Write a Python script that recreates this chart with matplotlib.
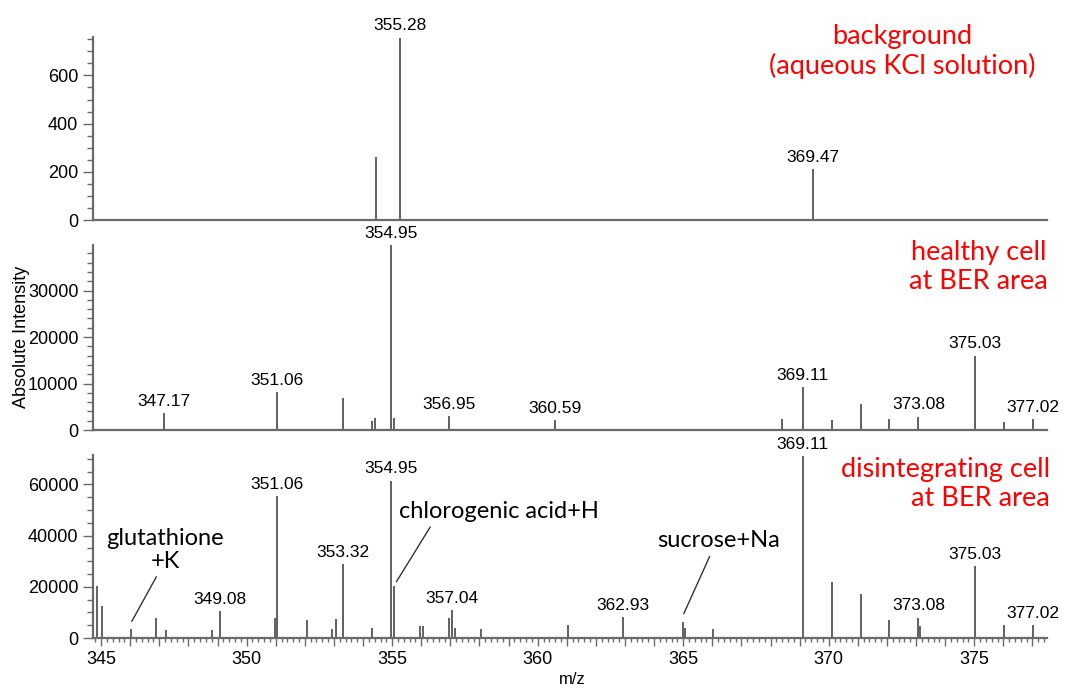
import matplotlib
matplotlib.use("Agg")
import matplotlib.pyplot as plt
from matplotlib.ticker import MultipleLocator, FuncFormatter

# background (aqueous KCl solution)
bg_mz = [354.43, 355.28, 369.47]
bg_int = [260, 757, 210]
bg_labels = [355.28, 369.47]

# healthy cell at BER area
healthy_mz = [347.17, 351.06, 353.32, 354.30, 354.42, 354.95, 355.07, 356.95, 360.59,
              368.40, 369.11, 370.10, 371.10, 372.08, 373.08, 375.03, 376.03, 377.02]
healthy_int = [3700, 8200, 6900, 1900, 2600, 39800, 2600, 3000, 2200,
               2400, 9300, 2200, 5600, 2400, 2900, 16000, 1800, 2400]
healthy_labels = [347.17, 351.06, 354.95, 356.95, 360.59, 369.11, 373.08, 375.03, 377.02]

# disintegrating cell at BER area
dis_mz = [344.87, 345.03, 346.03, 346.88, 347.22, 348.80, 349.08, 350.96, 351.06,
          352.09, 352.95, 353.08, 353.32, 354.30, 354.95, 355.07, 355.96, 356.06,
          356.95, 357.04, 357.16, 358.05, 361.03, 362.93, 365.00, 365.07, 366.03,
          369.11, 370.10, 371.10, 372.08, 373.08, 373.15, 375.03, 376.03, 377.02]
dis_int = [20500, 12500, 3500, 8000, 3300, 3300, 10600, 7800, 55300,
           7000, 3500, 7500, 29000, 3800, 61500, 20500, 4700, 4800,
           7800, 11000, 3900, 3500, 5000, 8300, 6200, 4000, 3500,
           71000, 22000, 17000, 7200, 8000, 4500, 28000, 5000, 5000]
dis_labels = [349.08, 351.06, 353.32, 354.95, 357.04, 362.93, 369.11, 373.08, 375.03, 377.02]

plt.rcParams['font.family'] = ['Liberation Sans', 'DejaVu Sans']
note_font = ['Lato', 'DejaVu Sans']
grey = '#6a6a6a'

fig = plt.figure(figsize=(10.66, 6.91), dpi=100)
left, width = 0.0872, 0.895
ax_bg = fig.add_axes([left, 0.6816, width, 0.265])
ax_h = fig.add_axes([left, 0.3777, width, 0.2677], sharex=ax_bg)
ax_d = fig.add_axes([left, 0.0767, width, 0.2648], sharex=ax_bg)


def draw_panel(ax, mz, inten, labels, ytop, major, minor):
    ax.set_facecolor('none')
    ax.vlines(mz, 0, inten, color='#555555', lw=1.3)
    for m in labels:
        h = inten[mz.index(m)]
        ax.annotate(f'{m:.2f}', (m, h), xytext=(0, 3), textcoords='offset points',
                    ha='center', va='bottom', fontsize=12.5, annotation_clip=False)
    ax.set_ylim(0, ytop)
    ax.yaxis.set_major_locator(MultipleLocator(major))
    ax.yaxis.set_minor_locator(MultipleLocator(minor))
    for s in ['top', 'right']:
        ax.spines[s].set_visible(False)
    for s in ['left', 'bottom']:
        ax.spines[s].set_color(grey)
        ax.spines[s].set_linewidth(1.6)
    ax.tick_params(axis='y', which='major', length=7, width=1, color=grey, labelsize=13)
    ax.tick_params(axis='y', which='minor', length=4, width=1, color=grey)


draw_panel(ax_bg, bg_mz, bg_int, bg_labels, 760, 200, 50)
draw_panel(ax_h, healthy_mz, healthy_int, healthy_labels, 39800, 10000, 2000)
draw_panel(ax_d, dis_mz, dis_int, dis_labels, 71500, 20000, 5000)

ax_d.set_xlim(344.72, 377.5)
ax_d.xaxis.set_major_locator(MultipleLocator(1))
ax_d.xaxis.set_minor_locator(MultipleLocator(0.2))
ax_d.xaxis.set_major_formatter(FuncFormatter(lambda v, p: f'{v:.0f}' if round(v) % 5 == 0 else ''))
for ax in [ax_bg, ax_h]:
    ax.tick_params(axis='x', which='both', bottom=False, labelbottom=False)
ax_d.tick_params(axis='x', which='major', length=6, width=1, color=grey, labelsize=13)
ax_d.tick_params(axis='x', which='minor', length=3, width=1, color=grey)

# compound annotations
line_kw = dict(arrowstyle='-', color='#333333', lw=1.0, shrinkA=2, shrinkB=1)
ax_d.annotate('glutathione\n+K', xy=(346.03, 6000), xytext=(347.2, 34500),
              ha='center', va='center', fontsize=17, family=note_font, linespacing=1.1,
              arrowprops=dict(line_kw, relpos=(0.45, 0)))
ax_d.annotate('chlorogenic acid+H', xy=(355.12, 21500), xytext=(355.25, 49500),
              ha='left', va='center', fontsize=17, family=note_font,
              arrowprops=dict(line_kw, relpos=(0.17, 0)))
ax_d.annotate('sucrose+Na', xy=(365.0, 9000), xytext=(366.2, 38000),
              ha='center', va='center', fontsize=17, family=note_font,
              arrowprops=dict(line_kw, relpos=(0.45, 0)))

# sample names
red = '#ff0000'
fig.text(0.846, 0.925, 'background\n(aqueous KCl solution)', color=red, ha='center', va='center',
         fontsize=19.5, family=note_font, linespacing=1.2)
fig.text(0.918, 0.6136, 'healthy cell\nat BER area', color=red, ha='center', va='center',
         fontsize=19.5, family=note_font, linespacing=1.2)
fig.text(0.985, 0.2996, 'disintegrating cell\nat BER area', color=red, ha='right', va='center',
         multialignment='right', fontsize=19.5, family=note_font, linespacing=1.2)

fig.text(0.02, 0.512, 'Absolute Intensity', rotation=90, ha='center', va='center', fontsize=13)
fig.text(0.537, 0.016, 'm/z', ha='center', va='center', fontsize=12)

fig.savefig('out.png', dpi=100)
